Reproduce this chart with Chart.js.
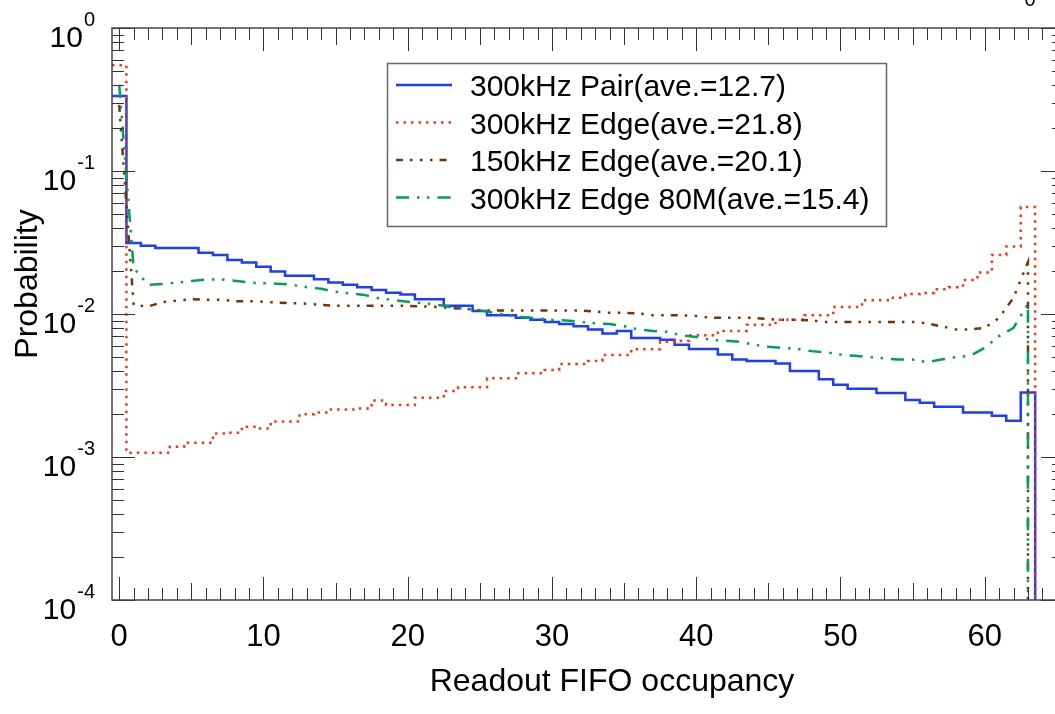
<!DOCTYPE html>
<html>
<head>
<meta charset="utf-8">
<title>Readout FIFO occupancy</title>
<script src="https://cdn.jsdelivr.net/npm/chart.js@4.4.1/dist/chart.umd.min.js"></script>
<style>
  html, body { margin: 0; padding: 0; background: #fff; overflow: hidden; }
  #wrap { position: absolute; left: 0; top: 0; width: 1066px; height: 714px; }
</style>
</head>
<body>
<div id="wrap"><canvas id="fifoChart" width="1066" height="714"></canvas></div>
<script>
// bin k = FIFO occupancy k (0..63)
const seriesLabels = [
    '300kHz Pair(ave.=12.7)',
    '300kHz Edge(ave.=21.8)',
    '150kHz Edge(ave.=20.1)',
    '300kHz Edge 80M(ave.=15.4)'
];

const pairValues = [
    0.335, 0.0314, 0.0300, 0.0289, 0.0289, 0.0289, 0.0268, 0.0259, 0.0239, 0.0229,
    0.0214, 0.0198, 0.0185, 0.0185, 0.0175, 0.0166, 0.0160, 0.0154, 0.0147, 0.0141,
    0.0137, 0.0127, 0.0127, 0.0114, 0.0114, 0.0105, 0.0098, 0.0098, 0.0094, 0.0091,
    0.0088, 0.0085, 0.0082, 0.0078, 0.0073, 0.0076, 0.0068, 0.0068, 0.0066, 0.0061,
    0.0057, 0.0057, 0.0052, 0.0048, 0.0047, 0.0047, 0.0045, 0.0040, 0.0040, 0.0035,
    0.0032, 0.0030, 0.0030, 0.0028, 0.0028, 0.0025, 0.0024, 0.00225, 0.00225, 0.00205,
    0.00205, 0.00194, 0.00179, 0.00282
];

const edge300Values = [
    0.55, 0.00107, 0.00107, 0.00107, 0.00118, 0.00126, 0.00126, 0.00146, 0.00148, 0.00163,
    0.00158, 0.00177, 0.00177, 0.00199, 0.00205, 0.00215, 0.00215, 0.00218, 0.00248, 0.00231,
    0.00231, 0.0026, 0.0026, 0.0029, 0.00307, 0.00307, 0.00355, 0.00355, 0.00385, 0.00385,
    0.00406, 0.00447, 0.00447, 0.00469, 0.00517, 0.00517, 0.00566, 0.00566, 0.0064, 0.0065,
    0.0071, 0.0071, 0.0076, 0.0076, 0.0084, 0.0084, 0.0091, 0.0091, 0.0098, 0.0098,
    0.0112, 0.0112, 0.0125, 0.0125, 0.0130, 0.0138, 0.0140, 0.0149, 0.0154, 0.0173,
    0.0195, 0.0259, 0.0297, 0.056
];

const edge150Values = [
    0.29, 0.0115, 0.0113, 0.0121, 0.0124, 0.0127, 0.0126, 0.0126, 0.0123, 0.0123,
    0.0122, 0.0120, 0.0119, 0.0118, 0.0116, 0.0114, 0.0114, 0.0114, 0.0114, 0.0114,
    0.0114, 0.0113, 0.0112, 0.0110, 0.0109, 0.0106, 0.0106, 0.0106, 0.0106, 0.0106,
    0.0106, 0.0106, 0.0106, 0.0104, 0.0102, 0.0102, 0.0101, 0.0098, 0.0098, 0.0098,
    0.0097, 0.0094, 0.0094, 0.0094, 0.0094, 0.0092, 0.0091, 0.0091, 0.0090, 0.0088,
    0.0088, 0.0088, 0.0088, 0.0088, 0.0088, 0.0088, 0.0086, 0.0082, 0.0078, 0.0078,
    0.0080, 0.0094, 0.0130, 0.0230
];

const edge80MValues = [
    0.40, 0.021, 0.016, 0.0162, 0.0166, 0.0170, 0.0174, 0.0175, 0.0171, 0.0166,
    0.0164, 0.0163, 0.0160, 0.0154, 0.0150, 0.0143, 0.0139, 0.0136, 0.0129, 0.0125,
    0.0122, 0.0119, 0.0116, 0.0112, 0.0109, 0.0106, 0.0102, 0.0098, 0.0095, 0.0093,
    0.0091, 0.0090, 0.0088, 0.0086, 0.0085, 0.0082, 0.0078, 0.0076, 0.0075, 0.0071,
    0.0069, 0.0066, 0.0065, 0.0064, 0.0061, 0.0059, 0.0058, 0.0057, 0.0055, 0.0054,
    0.0052, 0.0051, 0.0050, 0.0049, 0.0048, 0.0048, 0.0046, 0.0048, 0.0050, 0.0051,
    0.0058, 0.0070, 0.0080, 0.0118
];

const xTickLabels = [0, 10, 20, 30, 40, 50, 60];
const yTickExponents = [0, -1, -2, -3, -4];

// value used for the empty bins past the last one (falls below the axis)
const EMPTY = 1e-6;

const FONT = '"Liberation Sans", Arial, Helvetica, sans-serif';

// histogram drawn as steps: one point per bin low edge, held to the next edge
function stepPoints(values) {
    const pts = values.map((v, i) => ({ x: i - 0.5, y: v }));
    pts.push({ x: values.length - 0.5, y: EMPTY });
    return pts;
}

// histogram drawn as a polyline through bin centres
function centerPoints(values) {
    const pts = values.map((v, i) => ({ x: i, y: v }));
    pts.push({ x: values.length - 1, y: EMPTY });
    return pts;
}

const axesAndLegend = {
    id: 'axesAndLegend',
    afterDatasetsDraw(chart) {
        const { ctx, chartArea: a, scales: { x, y } } = chart;
        ctx.save();

        // inward ticks on all four sides
        ctx.strokeStyle = '#333';
        ctx.lineWidth = 1;
        ctx.beginPath();
        for (let v = Math.ceil(x.min); v <= Math.floor(x.max); v++) {
            const px = Math.round(x.getPixelForValue(v)) + 0.5;
            const len = v % 10 === 0 ? 23 : (v % 5 === 0 ? 17 : 12);
            ctx.moveTo(px, a.bottom); ctx.lineTo(px, a.bottom - len);
            ctx.moveTo(px, a.top); ctx.lineTo(px, a.top + len);
        }
        const dMin = Math.round(Math.log10(y.min));
        const dMax = Math.round(Math.log10(y.max));
        for (let d = dMin; d <= dMax; d++) {
            const py = Math.round(y.getPixelForValue(Math.pow(10, d))) + 0.5;
            ctx.moveTo(a.left, py); ctx.lineTo(a.left + 23, py);
            ctx.moveTo(a.right, py); ctx.lineTo(a.right - 23, py);
            if (d === dMax) continue;
            for (let m = 2; m <= 9; m++) {
                const pm = Math.round(y.getPixelForValue(m * Math.pow(10, d))) + 0.5;
                ctx.moveTo(a.left, pm); ctx.lineTo(a.left + 12, pm);
                ctx.moveTo(a.right, pm); ctx.lineTo(a.right - 12, pm);
            }
        }
        ctx.stroke();

        // frame
        ctx.lineWidth = 1.5;
        ctx.strokeStyle = '#444';
        ctx.strokeRect(a.left, a.top, a.right - a.left, a.bottom - a.top);

        // tick labels
        ctx.fillStyle = '#000';
        ctx.textBaseline = 'alphabetic';
        ctx.font = '31px ' + FONT;
        ctx.textAlign = 'center';
        xTickLabels.forEach(v => {
            ctx.fillText(String(v), x.getPixelForValue(v), a.bottom + 46);
        });
        yTickExponents.forEach(e => {
            const py = y.getPixelForValue(Math.pow(10, e));
            const exp = String(e);
            ctx.font = '20px ' + FONT;
            const ew = ctx.measureText(exp).width;
            ctx.textAlign = 'left';
            ctx.fillText(exp, 95 - ew, py - 2);
            ctx.font = '30px ' + FONT;
            ctx.textAlign = 'right';
            ctx.fillText('10', 95 - ew - 1, py + 19);
        });

        // stray exponent at the top right edge
        ctx.font = '20px ' + FONT;
        ctx.textAlign = 'center';
        ctx.fillText('0', 1030, 6);

        // axis titles
        ctx.font = '32px ' + FONT;
        ctx.textAlign = 'center';
        ctx.fillText('Readout FIFO occupancy', 612, 691);
        ctx.save();
        ctx.translate(37, 284);
        ctx.rotate(-Math.PI / 2);
        ctx.fillText('Probability', 0, 0);
        ctx.restore();

        // legend
        const bx = 387.5, by = 63.5, bw = 499, bh = 163;
        ctx.fillStyle = '#fff';
        ctx.fillRect(bx, by, bw, bh);
        ctx.strokeStyle = '#666';
        ctx.lineWidth = 1.5;
        ctx.strokeRect(bx, by, bw, bh);
        ctx.font = '30px ' + FONT;
        ctx.textAlign = 'left';
        chart.data.datasets.forEach((ds, i) => {
            const ry = 85 + 37.5 * i;
            ctx.strokeStyle = ds.borderColor;
            ctx.lineWidth = ds.borderWidth;
            ctx.setLineDash(ds.borderDash || []);
            ctx.beginPath();
            ctx.moveTo(396, ry);
            ctx.lineTo(452, ry);
            ctx.stroke();
            ctx.setLineDash([]);
            ctx.fillStyle = '#000';
            ctx.fillText(ds.label, 470, ry + 11);
        });

        ctx.restore();
    }
};

const ctx = document.getElementById('fifoChart').getContext('2d');

const fifoChart = new Chart(ctx, {
    type: 'line',
    data: {
        datasets: [{
            label: seriesLabels[0],
            data: stepPoints(pairValues),
            stepped: 'before',
            borderColor: '#1a3dff',
            borderWidth: 2.5,
            order: 4
        }, {
            label: seriesLabels[1],
            data: stepPoints(edge300Values),
            stepped: 'before',
            borderColor: '#ff3311',
            borderWidth: 2.5,
            borderDash: [2.5, 5],
            order: 3
        }, {
            label: seriesLabels[2],
            data: centerPoints(edge150Values),
            borderColor: '#7a3300',
            borderWidth: 2.5,
            borderDash: [7, 7, 2.5, 7.5, 2.5, 7.5, 2.5, 7],
            order: 2
        }, {
            label: seriesLabels[3],
            data: centerPoints(edge80MValues),
            borderColor: '#00a05a',
            borderWidth: 2.5,
            borderDash: [13, 8, 2.5, 7.5, 2.5, 8],
            order: 1
        }]
    },
    options: {
        responsive: false,
        animation: false,
        devicePixelRatio: 1,
        layout: {
            padding: { left: 112, top: 28, right: 2, bottom: 114 }
        },
        elements: {
            point: { radius: 0, hoverRadius: 0 },
            line: { tension: 0, fill: false }
        },
        scales: {
            x: { type: 'linear', min: -0.5, max: 65.5, display: false },
            y: { type: 'logarithmic', min: 1e-4, max: 1, display: false }
        },
        plugins: {
            legend: { display: false },
            tooltip: { enabled: false }
        }
    },
    plugins: [axesAndLegend]
});
</script>
</body>
</html>
